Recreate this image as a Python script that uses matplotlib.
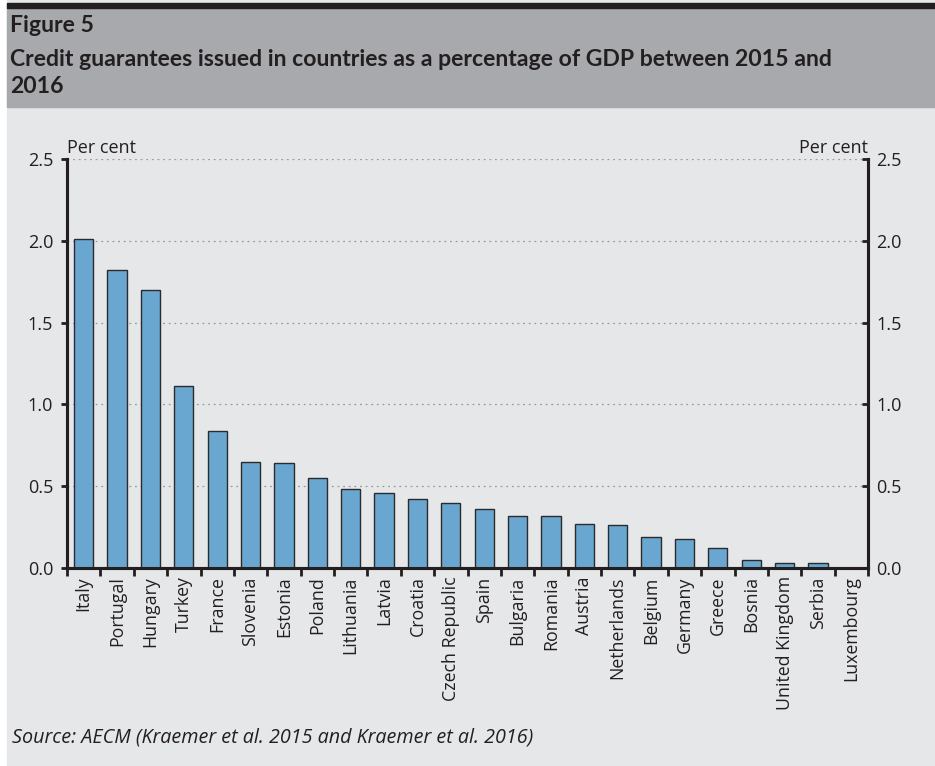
import matplotlib as mpl
import matplotlib.pyplot as plt
from matplotlib.patches import Rectangle

mpl.rcParams['font.family'] = ['Open Sans', 'DejaVu Sans']

countries = ['Italy', 'Portugal', 'Hungary', 'Turkey', 'France', 'Slovenia',
             'Estonia', 'Poland', 'Lithuania', 'Latvia', 'Croatia',
             'Czech Republic', 'Spain', 'Bulgaria', 'Romania', 'Austria',
             'Netherlands', 'Belgium', 'Germany', 'Greece', 'Bosnia',
             'United Kingdom', 'Serbia', 'Luxembourg']
values = [2.01, 1.82, 1.70, 1.11, 0.84, 0.65, 0.64, 0.55, 0.48, 0.46, 0.42,
          0.40, 0.36, 0.32, 0.32, 0.27, 0.26, 0.19, 0.18, 0.12, 0.05,
          0.03, 0.03, 0.0]
yticks = [0.0, 0.5, 1.0, 1.5, 2.0, 2.5]

BODY = '#e6e7e9'
HEAD = '#a7a9ac'
BAR = '#6aa7d0'
INK = '#231f20'

fig = plt.figure(figsize=(9.35, 7.66), dpi=100)
fig.patch.set_facecolor('white')
W, H = 935, 766

# background panels (pixel coords converted to figure fraction)
def box(x0, y0, x1, y1, color):
    fig.patches.append(Rectangle((x0 / W, 1 - y1 / H), (x1 - x0) / W, (y1 - y0) / H,
                                 transform=fig.transFigure, color=color, zorder=-10))

box(7, 0, W, H, BODY)
box(7, 8, W, 107, HEAD)
box(7, 3, W, 8, INK)

fig.text(10 / W, 1 - 26 / H, 'Figure 5', fontsize=16.6, fontweight='bold',
         color=INK, va='center', family=['Lato', 'DejaVu Sans'])
fig.text(10 / W, 1 - 73 / H,
         'Credit guarantees issued in countries as a percentage of GDP between 2015 and\n2016',
         fontsize=16.6, fontweight='bold', color=INK, va='center', linespacing=1.3,
         family=['Lato', 'DejaVu Sans'])
fig.text(12 / W, 1 - 738 / H, 'Source: AECM (Kraemer et al. 2015 and Kraemer et al. 2016)',
         fontsize=14.2, style='italic', color=INK, va='center')

ax = fig.add_axes([67 / W, 1 - 568 / H, (868 - 67) / W, (568 - 159) / H])
ax.set_facecolor(BODY)
x = range(len(countries))
ax.bar(x, values, width=0.58, color=BAR, edgecolor='#2b2b2b', linewidth=1.0, zorder=3)

ax.set_xlim(-0.5, len(countries) - 0.5)
ax.set_ylim(0, 2.5)
ax.set_yticks(yticks)
ax.set_yticklabels([f'{v:.1f}' for v in yticks])
for v in yticks[1:]:
    ax.axhline(v, color='#9a9a9a', linestyle=(0, (1.5, 3)), linewidth=0.9, zorder=1)

ax.set_xticks([i + 0.5 for i in range(-1, len(countries))], minor=False)
ax.set_xticklabels([])
ax.set_xticks(list(x), minor=True)
ax.set_xticklabels(countries, minor=True, rotation=90, fontsize=12.8, color=INK)
ax.tick_params(axis='x', which='major', direction='out', length=6, width=2, color=INK)
ax.tick_params(axis='x', which='minor', length=0, pad=6)
ax.tick_params(axis='y', direction='out', length=4, width=2, color=INK,
               labelsize=13, labelcolor=INK, pad=6)

ax2 = ax.twinx()
ax2.set_ylim(0, 2.5)
ax2.set_yticks(yticks)
ax2.set_yticklabels([f'{v:.1f}' for v in yticks])
ax2.tick_params(axis='y', direction='in', length=4, width=2, color=INK,
                labelsize=13, labelcolor=INK, pad=6)

for a in (ax, ax2):
    a.spines['top'].set_visible(False)
    for s in ('left', 'right', 'bottom'):
        a.spines[s].set_linewidth(2.2)
        a.spines[s].set_color(INK)

ax.text(0.0, 1.005, 'Per cent', transform=ax.transAxes, fontsize=13, color=INK,
        ha='left', va='bottom')
ax.text(1.0, 1.005, 'Per cent', transform=ax.transAxes, fontsize=13, color=INK,
        ha='right', va='bottom')

fig.savefig('out.png', dpi=100, facecolor=fig.get_facecolor())
